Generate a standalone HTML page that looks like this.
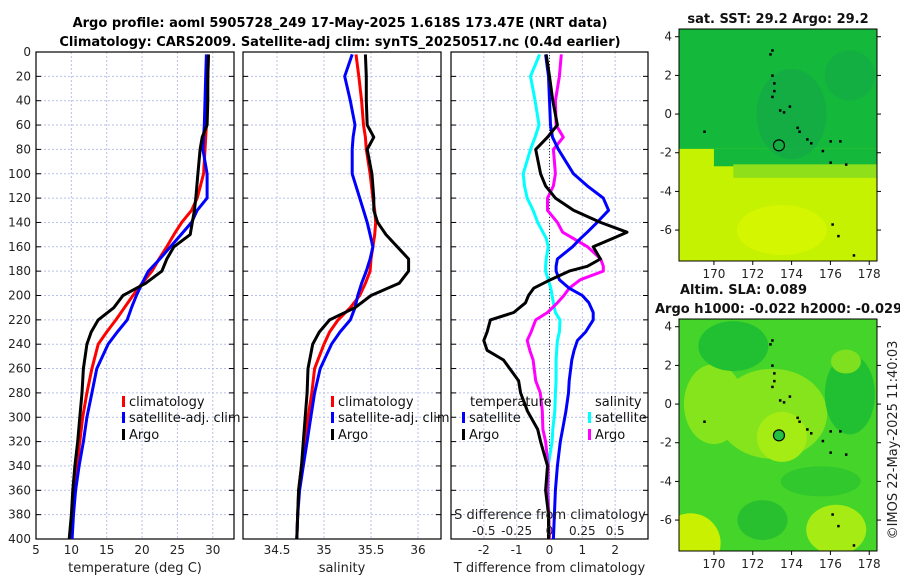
<!DOCTYPE html>
<html><head><meta charset="utf-8"><style>
body{margin:0;background:#fff;}
svg{display:block;font-family:"DejaVu Sans","Liberation Sans",sans-serif;}
</style></head><body>
<svg id="chart" width="900" height="580" viewBox="0 0 900 580">
<text x="340" y="27" font-size="13" font-weight="bold" text-anchor="middle">Argo profile: aoml 5905728_249 17-May-2025 1.618S 173.47E (NRT data)</text>
<text x="340" y="46" font-size="13" font-weight="bold" text-anchor="middle">Climatology: CARS2009. Satellite-adj clim: synTS_20250517.nc (0.4d earlier)</text>
<g id="g1"></g><g id="g2"></g><g id="g3"></g><g id="maps"></g>
</svg>
<script>
// ---- data ----
const depths = [2,20,40,60,70,80,100,120,130,140,150,160,170,180,190,200,210,220,230,240,260,280,300,320,340,360,380,400];
const tClim = [29.4,29.3,29.2,29.1,29.0,28.9,28.7,27.8,27.0,25.6,24.5,23.5,22.4,21.4,20.0,18.7,17.5,16.3,15.0,13.8,12.9,12.2,11.6,11.2,10.8,10.4,10.1,9.8];
const tSat = [29.1,29.0,28.9,28.8,28.7,28.6,29.2,29.2,27.8,27.0,25.5,24.0,22.5,20.9,20.0,19.2,18.5,17.9,16.5,15.2,13.6,12.9,12.2,11.7,11.1,10.6,10.3,10.1];
const tArgo = [29.4,29.3,29.3,29.2,28.5,28.2,27.9,27.6,27.4,27.1,26.8,24.5,23.5,22.8,20.5,17.3,16.0,13.8,12.8,12.2,11.7,11.5,11.2,10.9,10.5,10.2,10.0,9.7];
const sClim = [35.34,35.37,35.40,35.42,35.44,35.45,35.49,35.52,35.54,35.55,35.54,35.52,35.50,35.49,35.44,35.38,35.28,35.15,35.06,35.0,34.9,34.87,34.83,34.8,34.76,34.73,34.72,34.71];
const sSat = [35.3,35.22,35.28,35.33,35.31,35.3,35.3,35.38,35.42,35.46,35.49,35.52,35.49,35.45,35.4,35.36,35.33,35.28,35.17,35.08,34.96,34.9,34.86,34.82,34.78,34.74,34.72,34.71];
const sArgo = [35.44,35.45,35.45,35.46,35.53,35.46,35.51,35.53,35.53,35.57,35.66,35.78,35.9,35.9,35.8,35.5,35.33,35.06,34.95,34.88,34.83,34.82,34.8,34.78,34.76,34.73,34.72,34.71];
const depths3 = [2,20,40,60,70,80,100,110,120,130,140,148,153,160,170,176,180,187,194,200,206,214,220,230,237,245,253,270,280,295,310,320,340,360,380,400];
const dtSat = [-0.12,-0.03,0,0.03,0.09,0.27,0.73,1.15,1.64,1.8,1.45,1.15,0.95,0.7,0.24,0.2,0.2,0.3,0.6,1.0,1.2,1.33,1.33,1.1,0.85,0.75,0.68,0.6,0.58,0.5,0.4,0.33,0.24,0.18,0.15,0.12];
const dtArgo = [-0.1,0.0,0.1,0.24,-0.06,-0.42,-0.27,-0.12,0.18,0.73,1.55,2.36,1.94,1.33,1.55,1.15,0.6,0.03,-0.48,-0.64,-0.73,-1.09,-1.8,-1.9,-2.0,-1.9,-1.4,-0.94,-0.88,-0.67,-0.36,-0.27,-0.06,-0.12,-0.03,-0.03];
const dsSat = [-0.075,-0.145,-0.11,-0.08,-0.11,-0.145,-0.2,-0.19,-0.17,-0.125,-0.09,-0.05,-0.025,-0.01,-0.025,-0.03,-0.03,-0.01,0.01,0.02,0.03,0.045,0.08,0.075,0.06,0.055,0.05,0.05,0.045,0.04,0.025,0.02,-0.01,-0.01,-0.005,0];
const dsArgo = [0.09,0.075,0.045,0.05,0.105,0.03,0.045,0.03,-0.015,-0.015,0.06,0.1,0.18,0.29,0.39,0.41,0.41,0.235,0.15,0.11,0.06,-0.015,-0.105,-0.14,-0.17,-0.15,-0.125,-0.105,-0.07,-0.055,-0.05,-0.03,-0.01,-0.015,-0.005,0];
const depthTicks = [0,20,40,60,80,100,120,140,160,180,200,220,240,260,280,300,320,340,360,380,400];
const tTicks = [5,10,15,20,25,30];
const sTicks = [34.5,35,35.5,36];
const dtTicks = [-2,-1,0,1,2];
const dsTicks = [-0.5,-0.25,0,0.25,0.5];
const dsTickLabels = ["-0.5","-0.25","0","0.25","0.5"];
const latTicks = [4,2,0,-2,-4,-6];
const lonTicks = [170,172,174,176,178];

const NS="http://www.w3.org/2000/svg";
function el(tag,attrs,parent,txt){const e=document.createElementNS(NS,tag);for(const k in attrs)e.setAttribute(k,attrs[k]);if(txt!==undefined)e.textContent=txt;parent.appendChild(e);return e;}
const top0=52,bot=539;
const yD=d=>top0+(d/400)*(bot-top0);

function panel(g,x0,x1,vmin,vmax,ticks,labels,xlabel,name,showY){
  const sx=v=>x0+(v-vmin)/(vmax-vmin)*(x1-x0);
  depthTicks.forEach(d=>{
    const gl=el('line',{x1:x0,x2:x1,y1:yD(d),y2:yD(d),stroke:'#b9c2ea','stroke-width':1,'stroke-dasharray':'2,2'},g);
    
    
    el('line',{x1:x0,x2:x0+5,y1:yD(d),y2:yD(d),stroke:'#000'},g);
    el('line',{x1:x1-5,x2:x1,y1:yD(d),y2:yD(d),stroke:'#000'},g);
    if(showY){const t=el('text',{x:x0-5,y:yD(d)+4,'font-size':12,'text-anchor':'end',fill:'#222'},g,String(d));
      }
  });
  ticks.forEach((v,i)=>{
    const gl=el('line',{x1:sx(v),x2:sx(v),y1:top0,y2:bot,stroke:'#b9c2ea','stroke-width':1,'stroke-dasharray':'2,2'},g);
    
    
    const t=el('text',{x:sx(v),y:554,'font-size':12,'text-anchor':'middle',fill:'#222'},g,labels[i]);
    
    
  });
  const fr=el('rect',{x:x0,y:top0,width:x1-x0,height:bot-top0,fill:'none',stroke:'#000','stroke-width':1.2},g);
  
  
  const xl=el('text',{x:(x0+x1)/2,y:572,'font-size':13,'text-anchor':'middle',fill:'#222'},g,xlabel);
  
  
  return sx;
}
function line(g,sx,vals,ds,color,name,scale){
  const pts=vals.map((v,i)=>sx(v*(scale||1)).toFixed(1)+','+yD(ds[i]).toFixed(1)).join(' ');
  const p=el('polyline',{points:pts,fill:'none',stroke:color,'stroke-width':3,'stroke-linejoin':'round'},g);
  
  
}
function legend(g,x,y,color,label,name){
  el('rect',{x:x,y:y-10,width:3,height:11,fill:color},g);
  const t=el('text',{x:x+7,y:y,'font-size':13,fill:'#111'},g,label);
  
  
}
// panel 1
const g1=document.getElementById('g1');
const sx1=panel(g1,36,234,5,33,tTicks,tTicks.map(String),'temperature (deg C)','temperature-panel',true);
line(g1,sx1,tClim,depths,'#f00','temp-climatology-line');
line(g1,sx1,tSat,depths,'#00f','temp-satellite-line');
line(g1,sx1,tArgo,depths,'#000','temp-argo-line');
legend(g1,122,406,'#f00','climatology','legend-climatology');
legend(g1,122,422,'#00f','satellite-adj. clim','legend-satellite-adj');
legend(g1,122,439,'#000','Argo','legend-argo');
// panel 2
const g2=document.getElementById('g2');
const sx2=panel(g2,243,441,34.138,36.245,sTicks,sTicks.map(String),'salinity','salinity-panel',false);
line(g2,sx2,sClim,depths,'#f00','sal-climatology-line');
line(g2,sx2,sSat,depths,'#00f','sal-satellite-line');
line(g2,sx2,sArgo,depths,'#000','sal-argo-line');
legend(g2,331,406,'#f00','climatology','legend-climatology-2');
legend(g2,331,422,'#00f','satellite-adj. clim','legend-satellite-adj-2');
legend(g2,331,439,'#000','Argo','legend-argo-2');
// panel 3
const g3=document.getElementById('g3');
const sx3=panel(g3,451,648,-3,3,dtTicks,dtTicks.map(String),'T difference from climatology','difference-panel',false);
const z=el('line',{x1:sx3(0),x2:sx3(0),y1:top0,y2:bot,stroke:'#333','stroke-width':1,'stroke-dasharray':'1,2'},g3);

line(g3,sx3,dsSat,depths3,'#0ff','sal-diff-satellite-line',4);
line(g3,sx3,dsArgo,depths3,'#f0f','sal-diff-argo-line',4);
line(g3,sx3,dtSat,depths3,'#00f','temp-diff-satellite-line');
line(g3,sx3,dtArgo,depths3,'#000','temp-diff-argo-line');
dsTicks.forEach((v,i)=>{const t=el('text',{x:sx3(v*4),y:535,'font-size':12,'text-anchor':'middle',fill:'#222'},g3,dsTickLabels[i]);
  });
const st=el('text',{x:550,y:519,'font-size':13,'text-anchor':'middle',fill:'#222'},g3,'S difference from climatology');

const lt=el('text',{x:470,y:406,'font-size':13,fill:'#111'},g3,'temperature');

const ls=el('text',{x:595,y:406,'font-size':13,fill:'#111'},g3,'salinity');

legend(g3,462,422,'#00f','satellite','legend-temp-satellite');
legend(g3,462,439,'#000','Argo','legend-temp-argo');
legend(g3,588,422,'#0ff','satellite','legend-sal-satellite');
legend(g3,588,439,'#f0f','Argo','legend-sal-argo');

// ---- maps ----
const gm=document.getElementById('maps');
const mx0=679,mx1=877,lon0=168.2,lon1=178.4;
const lx=l=>mx0+(l-lon0)/(lon1-lon0)*(mx1-mx0);
const islands=[[173,3.3],[172.9,3.1],[173,2],[173.1,1.6],[173.1,1.2],[173,0.9],[173.4,0.2],[173.6,0.1],[173.9,0.4],[174.3,-0.7],[174.4,-0.9],[174.8,-1.3],[175,-1.5],[175.6,-1.9],[176,-1.4],[176.5,-1.4],[176,-2.5],[176.8,-2.6],[176.1,-5.7],[176.4,-6.3],[177.2,-7.3],[169.5,-0.9]];
function map(y0,y1,name,draw,circleFill){
  const ly=la=>y0+(4.4-la)/(4.4+7.6)*(y1-y0);
  const g=el('g',{},gm);
  
  
  el('clipPath',{id:'c'+name},g).appendChild(Object.assign(document.createElementNS(NS,'rect'),{}));
  const cp=g.querySelector('clipPath rect');cp.setAttribute('x',mx0);cp.setAttribute('y',y0);cp.setAttribute('width',mx1-mx0);cp.setAttribute('height',y1-y0);
  const inner=el('g',{'clip-path':'url(#c'+name+')'},g);
  draw(inner,ly);
  islands.forEach(p=>el('rect',{x:lx(p[0])-1,y:ly(p[1])-1,width:2.5,height:2.5,fill:'#000'},inner));
  const c=el('circle',{cx:lx(173.35),cy:ly(-1.618),r:5.5,fill:circleFill,stroke:'#000','stroke-width':1.2},g);
  
  el('rect',{x:mx0,y:y0,width:mx1-mx0,height:y1-y0,fill:'none',stroke:'#000','stroke-width':1},g);
  latTicks.forEach(v=>{el('line',{x1:mx0-4,x2:mx0,y1:ly(v),y2:ly(v),stroke:'#000'},g);el('line',{x1:mx1,x2:mx1+4,y1:ly(v),y2:ly(v),stroke:'#000'},g);
    const t=el('text',{x:mx0-7,y:ly(v)+4,'font-size':12,'text-anchor':'end',fill:'#222'},g,String(v));
    });
  lonTicks.forEach(v=>{el('line',{x1:lx(v),x2:lx(v),y1:y1,y2:y1+4,stroke:'#000'},g);
    const t=el('text',{x:lx(v),y:y1+17,'font-size':12,'text-anchor':'middle',fill:'#222'},g,String(v));
    });
}
map(29,261,'sst-map',(g,ly)=>{
  el('rect',{x:mx0,y:29,width:198,height:240,fill:'#c4f200'},g);
  el('rect',{x:mx0,y:29,width:198,height:ly(-1.8)-29,fill:'#14b83a'},g);
  el('rect',{x:lx(170),y:ly(-1.8),width:198,height:ly(-2.7)-ly(-1.8),fill:'#14b83a'},g);
  el('rect',{x:lx(171),y:ly(-2.6),width:160,height:ly(-3.3)-ly(-2.6),fill:'#8fe01a'},g);
  el('ellipse',{cx:lx(174),cy:ly(0),rx:35,ry:45,fill:'#12a848',opacity:0.7},g);
  el('ellipse',{cx:lx(177),cy:ly(2),rx:25,ry:25,fill:'#12a848',opacity:0.6},g);
  el('ellipse',{cx:lx(173.5),cy:ly(-6),rx:45,ry:25,fill:'#d8f600',opacity:0.8},g);
},'none');
map(319,551,'sla-map',(g,ly)=>{
  el('rect',{x:mx0,y:319,width:198,height:240,fill:'#44d42a'},g);
  el('ellipse',{cx:lx(173),cy:ly(-0.5),rx:55,ry:45,fill:'#86e41c'},g);
  el('ellipse',{cx:lx(173.5),cy:ly(-1.7),rx:25,ry:25,fill:'#a4ec14'},g);
  el('ellipse',{cx:lx(170),cy:ly(0),rx:30,ry:40,fill:'#86e41c'},g);
  el('ellipse',{cx:lx(168.8),cy:ly(-7.2),rx:30,ry:30,fill:'#c8f000'},g);
  el('ellipse',{cx:lx(176.3),cy:ly(-6.5),rx:30,ry:25,fill:'#a6ec14'},g);
  el('ellipse',{cx:lx(171),cy:ly(3),rx:35,ry:25,fill:'#20c032'},g);
  el('ellipse',{cx:lx(177),cy:ly(0.5),rx:25,ry:40,fill:'#20c032'},g);
  el('ellipse',{cx:lx(172.5),cy:ly(-6),rx:25,ry:20,fill:'#28c02e'},g);
  el('ellipse',{cx:lx(175.5),cy:ly(-4),rx:40,ry:15,fill:'#30c82c'},g);
  el('ellipse',{cx:lx(176.8),cy:ly(2.2),rx:15,ry:12,fill:'#7ee01e'},g);
},'#22c040');
const m1=el('text',{x:778,y:23,'font-size':13,'font-weight':'bold','text-anchor':'middle',fill:'#111'},gm,'sat. SST: 29.2 Argo: 29.2');

const m2=el('text',{x:680,y:294,'font-size':13,'font-weight':'bold',fill:'#111'},gm,'Altim. SLA: 0.089');

const m3=el('text',{x:655,y:313,'font-size':13,'font-weight':'bold',fill:'#111'},gm,'Argo h1000: -0.022 h2000: -0.029');

const cr=el('text',{x:0,y:0,'font-size':13,'text-anchor':'middle',fill:'#222',transform:'translate(897,440) rotate(-90)'},gm,'©IMOS 22-May-2025 11:40:03');

</script>
</body></html>
